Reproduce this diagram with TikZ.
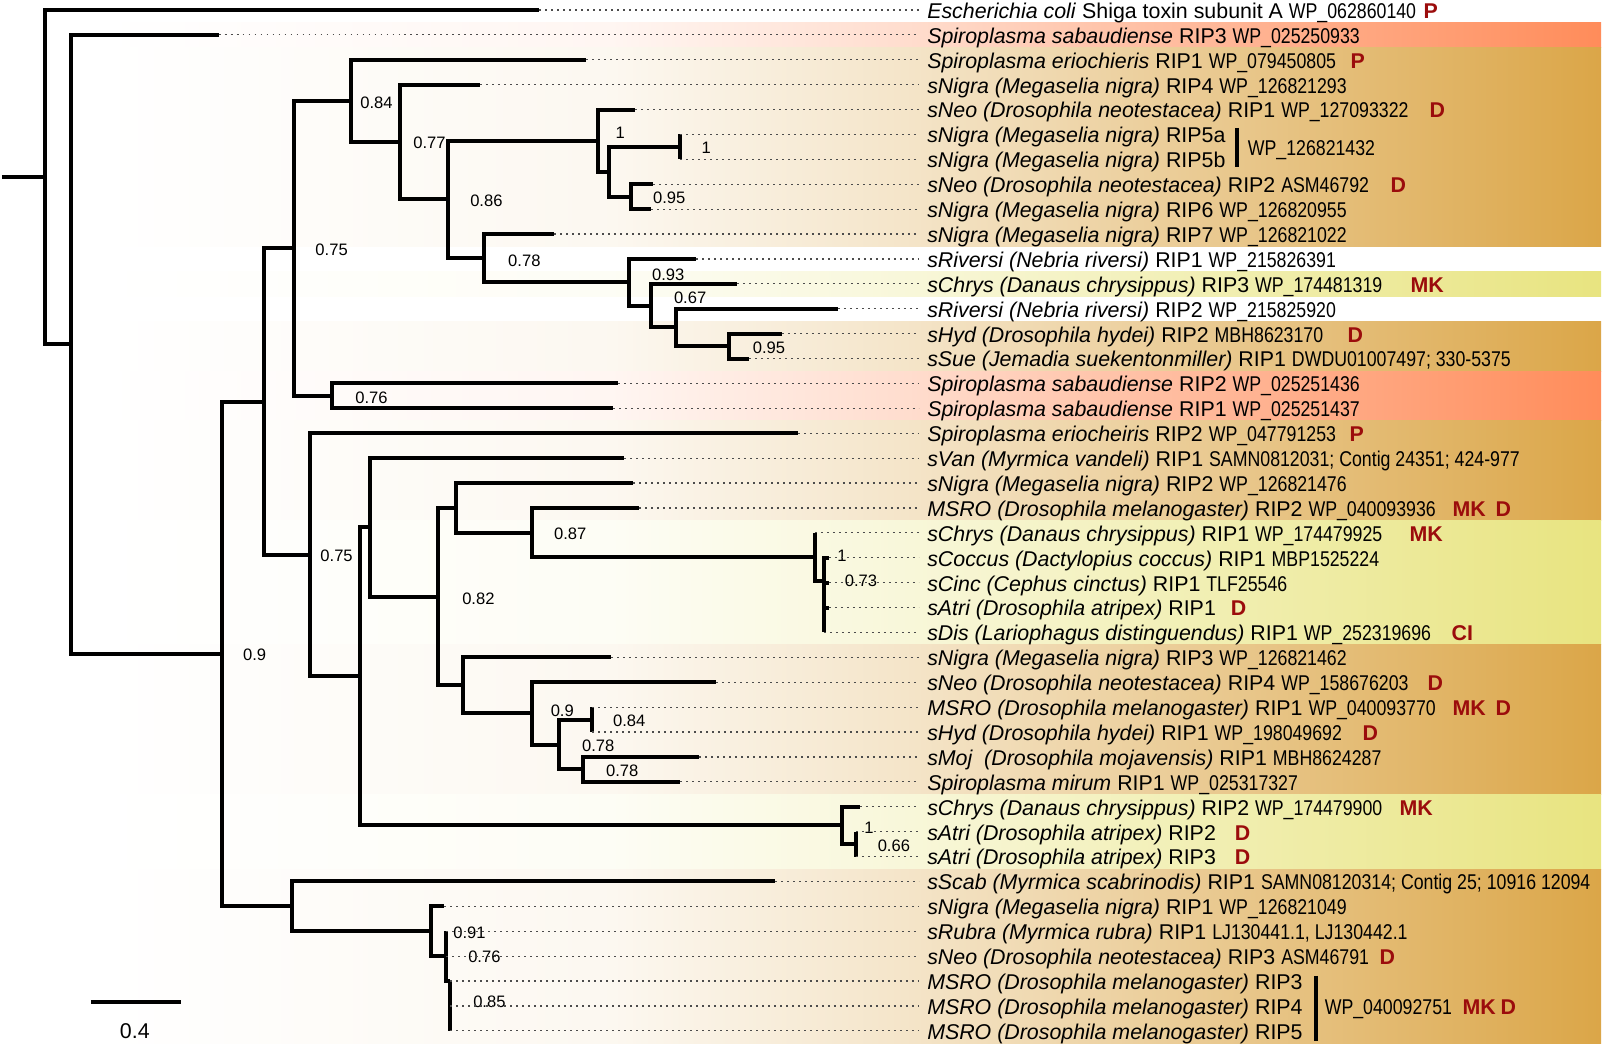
\documentclass[tikz,border=0pt]{standalone}
\usepackage{fontspec}
\setmainfont{Liberation Sans}
\newfontfamily\accfont[FakeStretch=0.83]{Liberation Sans}
\newcommand{\acc}[1]{{\accfont #1}}

\definecolor{bandgold}{RGB}{219,166,72}
\definecolor{bandcoral}{RGB}{255,140,90}
\definecolor{bandyellow}{RGB}{232,228,128}
\definecolor{tagred}{RGB}{155,12,12}

% white on the left, full colour on the right
\pgfdeclarehorizontalshading{goldfade}{100bp}{color(0bp)=(white); color(25bp)=(white);
	color(42bp)=(bandgold!8); color(52bp)=(bandgold!30); color(58bp)=(bandgold!48);
	color(75bp)=(bandgold); color(100bp)=(bandgold)}
\pgfdeclarehorizontalshading{coralfade}{100bp}{color(0bp)=(white); color(25bp)=(white);
	color(42bp)=(bandcoral!8); color(52bp)=(bandcoral!30); color(58bp)=(bandcoral!50);
	color(75bp)=(bandcoral); color(100bp)=(bandcoral)}
\pgfdeclarehorizontalshading{yellowfade}{100bp}{color(0bp)=(white); color(25bp)=(white);
	color(42bp)=(bandyellow!8); color(52bp)=(bandyellow!30); color(58bp)=(bandyellow!48);
	color(75bp)=(bandyellow); color(100bp)=(bandyellow)}

\begin{document}
\begin{tikzpicture}[x=0.5pt, y=-12.465pt,
	branch/.style={line width=2pt, line join=miter},
	leafdots/.style={line width=0.6pt, dash pattern=on 0.9pt off 2.1pt, black!70},
	leaf/.style={anchor=base west, inner xsep=4pt, inner ysep=0pt, yshift=-4.2pt,
		font=\fontsize{10.7}{12}\selectfont},
	support/.style={inner sep=0pt, font=\fontsize{8.3}{10}\selectfont},
	tag/.style={anchor=base west, inner sep=0pt, yshift=-4.2pt, text=tagred,
		font=\fontsize{10.7}{12}\selectfont\bfseries},
	goldband/.style={shading=goldfade},
	coralband/.style={shading=coralfade},
	yellowband/.style={shading=yellowfade}
]

	\fill[white] (0,0.599) rectangle (1604,42.717);

	% Coloured rows behind the labels
	\shade[coralband]  (100,1.5)  rectangle (1601,2.5);
	\shade[goldband]   (100,2.5)  rectangle (1601,10.5);
	\shade[yellowband] (100,11.5) rectangle (1601,12.5);
	\shade[goldband]   (100,13.5) rectangle (1601,15.5);
	\shade[coralband]  (100,15.5) rectangle (1601,17.5);
	\shade[goldband]   (100,17.5) rectangle (1601,21.5);
	\shade[yellowband] (100,21.5) rectangle (1601,26.5);
	\shade[goldband]   (100,26.5) rectangle (1601,32.5);
	\shade[yellowband] (100,32.5) rectangle (1601,35.5);
	\shade[goldband]   (100,35.5) rectangle (1601,42.5);

	% Inner nodes of the tree
	\coordinate (stem) at (0,7.716);
	\coordinate (root) at (43,7.716);
	\coordinate (nA) at (69,14.432);
	\coordinate (nB) at (220,26.865);
	\coordinate (nC) at (262,16.729);
	\coordinate (nD) at (292,10.576);
	\coordinate (nF) at (349,4.652);
	\coordinate (nH) at (398,6.305);
	\coordinate (nI) at (447,8.609);
	\coordinate (nJ) at (597,6.25);
	\coordinate (nL) at (608,7.5);
	\coordinate (nM) at (679,6.5);
	\coordinate (nN) at (630,8.5);
	\coordinate (nK) at (483,10.969);
	\coordinate (nO) at (628,11.938);
	\coordinate (nP) at (650,12.875);
	\coordinate (nQ) at (675,13.75);
	\coordinate (nS) at (728,14.5);
	\coordinate (nG) at (330,16.5);
	\coordinate (nE) at (308,22.882);
	\coordinate (nT) at (358,27.765);
	\coordinate (nU) at (368,21.78);
	\coordinate (nW) at (437,24.559);
	\coordinate (nY) at (455,20.994);
	\coordinate (nAA) at (531,21.988);
	\coordinate (nAB) at (814,22.975);
	\coordinate (nAC) at (823,23.95);
	\coordinate (nZ) at (462,28.125);
	\coordinate (nAD) at (531,29.25);
	\coordinate (nAE) at (558,30.5);
	\coordinate (nAF) at (591,29.5);
	\coordinate (nAG) at (582,31.5);
	\coordinate (nV) at (841,33.75);
	\coordinate (nAH) at (855,34.5);
	\coordinate (nX) at (290,37);
	\coordinate (nAI) at (430,38);
	\coordinate (nAJ) at (445,39);
	\coordinate (nAK) at (449,40);

	% Tips
	\coordinate (tip1) at (538,1);
	\coordinate (tip2) at (217,2);
	\coordinate (tip3) at (585,3);
	\coordinate (tip4) at (479,4);
	\coordinate (tip5) at (634,5);
	\coordinate (tip6) at (679,6);
	\coordinate (tip7) at (679,7);
	\coordinate (tip8) at (652,8);
	\coordinate (tip9) at (650,9);
	\coordinate (tip10) at (553,10);
	\coordinate (tip11) at (695,11);
	\coordinate (tip12) at (736,12);
	\coordinate (tip13) at (837,13);
	\coordinate (tip14) at (781,14);
	\coordinate (tip15) at (748,15);
	\coordinate (tip16) at (617,16);
	\coordinate (tip17) at (612,17);
	\coordinate (tip18) at (797,18);
	\coordinate (tip19) at (623,19);
	\coordinate (tip20) at (632,20);
	\coordinate (tip21) at (638,21);
	\coordinate (tip22) at (814,22);
	\coordinate (tip23) at (828,23);
	\coordinate (tip24) at (828,24);
	\coordinate (tip25) at (828,25);
	\coordinate (tip26) at (823,26);
	\coordinate (tip27) at (610,27);
	\coordinate (tip28) at (715,28);
	\coordinate (tip29) at (591,29);
	\coordinate (tip30) at (591,30);
	\coordinate (tip31) at (698,31);
	\coordinate (tip32) at (679,32);
	\coordinate (tip33) at (859,33);
	\coordinate (tip34) at (855,34);
	\coordinate (tip35) at (855,35);
	\coordinate (tip36) at (774,36);
	\coordinate (tip37) at (443,37);
	\coordinate (tip38) at (445,38);
	\coordinate (tip39) at (445,39);
	\coordinate (tip40) at (449,40);
	\coordinate (tip41) at (449,41);
	\coordinate (tip42) at (449,42);

	% Branches
	\draw[branch] (stem) -- (root);
	\draw[branch] (root) |- (tip1) (root) |- (nA);
	\draw[branch] (nA) |- (tip2) (nA) |- (nB);
	\draw[branch] (nB) |- (nC) (nB) |- (nX);
	\draw[branch] (nC) |- (nD) (nC) |- (nE);
	\draw[branch] (nD) |- (nF) (nD) |- (nG);
	\draw[branch] (nF) |- (tip3) (nF) |- (nH);
	\draw[branch] (nH) |- (tip4) (nH) |- (nI);
	\draw[branch] (nI) |- (nJ) (nI) |- (nK);
	\draw[branch] (nJ) |- (tip5) (nJ) |- (nL);
	\draw[branch] (nL) |- (nM) (nL) |- (nN);
	\draw[branch] (nM) |- (tip6) (nM) |- (tip7);
	\draw[branch] (nN) |- (tip8) (nN) |- (tip9);
	\draw[branch] (nK) |- (tip10) (nK) |- (nO);
	\draw[branch] (nO) |- (tip11) (nO) |- (nP);
	\draw[branch] (nP) |- (tip12) (nP) |- (nQ);
	\draw[branch] (nQ) |- (tip13) (nQ) |- (nS);
	\draw[branch] (nS) |- (tip14) (nS) |- (tip15);
	\draw[branch] (nG) |- (tip16) (nG) |- (tip17);
	\draw[branch] (nE) |- (tip18) (nE) |- (nT);
	\draw[branch] (nT) |- (nU) (nT) |- (nV);
	\draw[branch] (nU) |- (tip19) (nU) |- (nW);
	\draw[branch] (nW) |- (nY) (nW) |- (nZ);
	\draw[branch] (nY) |- (tip20) (nY) |- (nAA);
	\draw[branch] (nAA) |- (tip21) (nAA) |- (nAB);
	\draw[branch] (nAB) |- (tip22) (nAB) |- (nAC);
	\draw[branch] (nAC) |- (tip23) (nAC) |- (tip24) (nAC) |- (tip25) (nAC) |- (tip26);
	\draw[branch] (nZ) |- (tip27) (nZ) |- (nAD);
	\draw[branch] (nAD) |- (tip28) (nAD) |- (nAE);
	\draw[branch] (nAE) |- (nAF) (nAE) |- (nAG);
	\draw[branch] (nAF) |- (tip29) (nAF) |- (tip30);
	\draw[branch] (nAG) |- (tip31) (nAG) |- (tip32);
	\draw[branch] (nV) |- (tip33) (nV) |- (nAH);
	\draw[branch] (nAH) |- (tip34) (nAH) |- (tip35);
	\draw[branch] (nX) |- (tip36) (nX) |- (nAI);
	\draw[branch] (nAI) |- (tip37) (nAI) |- (nAJ);
	\draw[branch] (nAJ) |- (tip38) (nAJ) |- (nAK);
	\draw[branch] (nAK) |- (tip42);

	% Support values
	\node[support] (s1) at (375,4.73) {0.84};
	\node[support] (s2) at (428,6.34) {0.77};
	\node[support] (s3) at (485,8.66) {0.86};
	\node[support] (s4) at (330,10.63) {0.75};
	\node[support] (s5) at (523,11.07) {0.78};
	\node[support] (s6) at (619,5.93) {1};
	\node[support] (s7) at (705,6.54) {1};
	\node[support] (s8) at (668,8.54) {0.95};
	\node[support] (s9) at (667,11.63) {0.93};
	\node[support] (s10) at (689,12.55) {0.67};
	\node[support] (s11) at (768,14.56) {0.95};
	\node[support] (s12) at (370,16.56) {0.76};
	\node[support] (s13) at (253,26.91) {0.9};
	\node[support] (s14) at (335,22.94) {0.75};
	\node[support] (s15) at (477,24.63) {0.82};
	\node[support] (s16) at (569,22.02) {0.87};
	\node[support] (s17) at (841,22.94) {1};
	\node[support] (s18) at (860,23.94) {0.73};
	\node[support] (s19) at (561,29.16) {0.9};
	\node[support] (s20) at (628,29.56) {0.84};
	\node[support] (s21) at (597,30.56) {0.78};
	\node[support] (s22) at (621,31.56) {0.78};
	\node[support] (s23) at (868,33.85) {1};
	\node[support] (s24) at (893,34.57) {0.66};
	\node[support] (s25) at (468,38.06) {0.91};
	\node[support] (s26) at (483,39.03) {0.76};
	\node[support] (s27) at (488,40.83) {0.85};

	% Leaf labels
	\node[leaf] (name1) at (918,1) {\textit{Escherichia coli} Shiga toxin subunit A \acc{WP\_062860140}};
	\node[leaf] (name2) at (918,2) {\textit{Spiroplasma sabaudiense} RIP3 \acc{WP\_025250933}};
	\node[leaf] (name3) at (918,3) {\textit{Spiroplasma eriochieris} RIP1 \acc{WP\_079450805}};
	\node[leaf] (name4) at (918,4) {\textit{sNigra (Megaselia nigra)} RIP4 \acc{WP\_126821293}};
	\node[leaf] (name5) at (918,5) {\textit{sNeo (Drosophila neotestacea)} RIP1 \acc{WP\_127093322}};
	\node[leaf] (name6) at (918,6) {\textit{sNigra (Megaselia nigra)} RIP5a};
	\node[leaf] (name7) at (918,7) {\textit{sNigra (Megaselia nigra)} RIP5b};
	\node[leaf] (name8) at (918,8) {\textit{sNeo (Drosophila neotestacea)} RIP2 \acc{ASM46792}};
	\node[leaf] (name9) at (918,9) {\textit{sNigra (Megaselia nigra)} RIP6 \acc{WP\_126820955}};
	\node[leaf] (name10) at (918,10) {\textit{sNigra (Megaselia nigra)} RIP7 \acc{WP\_126821022}};
	\node[leaf] (name11) at (918,11) {\textit{sRiversi (Nebria riversi)} RIP1 \acc{WP\_215826391}};
	\node[leaf] (name12) at (918,12) {\textit{sChrys (Danaus chrysippus)} RIP3 \acc{WP\_174481319}};
	\node[leaf] (name13) at (918,13) {\textit{sRiversi (Nebria riversi)} RIP2 \acc{WP\_215825920}};
	\node[leaf] (name14) at (918,14) {\textit{sHyd (Drosophila hydei)} RIP2 \acc{MBH8623170}};
	\node[leaf] (name15) at (918,15) {\textit{sSue (Jemadia suekentonmiller)} RIP1 \acc{DWDU01007497; 330-5375}};
	\node[leaf] (name16) at (918,16) {\textit{Spiroplasma sabaudiense} RIP2 \acc{WP\_025251436}};
	\node[leaf] (name17) at (918,17) {\textit{Spiroplasma sabaudiense} RIP1 \acc{WP\_025251437}};
	\node[leaf] (name18) at (918,18) {\textit{Spiroplasma eriocheiris} RIP2 \acc{WP\_047791253}};
	\node[leaf] (name19) at (918,19) {\textit{sVan (Myrmica vandeli)} RIP1 \acc{SAMN0812031; Contig 24351; 424-977}};
	\node[leaf] (name20) at (918,20) {\textit{sNigra (Megaselia nigra)} RIP2 \acc{WP\_126821476}};
	\node[leaf] (name21) at (918,21) {\textit{MSRO (Drosophila melanogaster)} RIP2 \acc{WP\_040093936}};
	\node[leaf] (name22) at (918,22) {\textit{sChrys (Danaus chrysippus)} RIP1 \acc{WP\_174479925}};
	\node[leaf] (name23) at (918,23) {\textit{sCoccus (Dactylopius coccus)} RIP1 \acc{MBP1525224}};
	\node[leaf] (name24) at (918,24) {\textit{sCinc (Cephus cinctus)} RIP1 \acc{TLF25546}};
	\node[leaf] (name25) at (918,25) {\textit{sAtri (Drosophila atripex)} RIP1};
	\node[leaf] (name26) at (918,26) {\textit{sDis (Lariophagus distinguendus)} RIP1 \acc{WP\_252319696}};
	\node[leaf] (name27) at (918,27) {\textit{sNigra (Megaselia nigra)} RIP3 \acc{WP\_126821462}};
	\node[leaf] (name28) at (918,28) {\textit{sNeo (Drosophila neotestacea)} RIP4 \acc{WP\_158676203}};
	\node[leaf] (name29) at (918,29) {\textit{MSRO (Drosophila melanogaster)} RIP1 \acc{WP\_040093770}};
	\node[leaf] (name30) at (918,30) {\textit{sHyd (Drosophila hydei)} RIP1 \acc{WP\_198049692}};
	\node[leaf] (name31) at (918,31) {\textit{sMoj\ \ (Drosophila mojavensis)} RIP1 \acc{MBH8624287}};
	\node[leaf] (name32) at (918,32) {\textit{Spiroplasma mirum} RIP1 \acc{WP\_025317327}};
	\node[leaf] (name33) at (918,33) {\textit{sChrys (Danaus chrysippus)} RIP2 \acc{WP\_174479900}};
	\node[leaf] (name34) at (918,34) {\textit{sAtri (Drosophila atripex)} RIP2};
	\node[leaf] (name35) at (918,35) {\textit{sAtri (Drosophila atripex)} RIP3};
	\node[leaf] (name36) at (918,36) {\textit{sScab (Myrmica scabrinodis)} RIP1 \acc{SAMN08120314; Contig 25; 10916 12094}};
	\node[leaf] (name37) at (918,37) {\textit{sNigra (Megaselia nigra)} RIP1 \acc{WP\_126821049}};
	\node[leaf] (name38) at (918,38) {\textit{sRubra (Myrmica rubra)} RIP1 \acc{LJ130441.1, LJ130442.1}};
	\node[leaf] (name39) at (918,39) {\textit{sNeo (Drosophila neotestacea)} RIP3 \acc{ASM46791}};
	\node[leaf] (name40) at (918,40) {\textit{MSRO (Drosophila melanogaster)} RIP3};
	\node[leaf] (name41) at (918,41) {\textit{MSRO (Drosophila melanogaster)} RIP4};
	\node[leaf] (name42) at (918,42) {\textit{MSRO (Drosophila melanogaster)} RIP5};

	\foreach \i in {1,...,42}
		\draw[leafdots] (tip\i) -- (tip\i -| name\i.west);

	% Shared accessions
	\coordinate (grpAtop) at (1237,5.73);
	\coordinate (grpAbot) at (1237,7.30);
	\draw[branch] (grpAtop) -- (grpAbot);
	\node[leaf] (grpA) at (1239,6.5) {\acc{WP\_126821432}};
	\coordinate (grpBtop) at (1316,39.79);
	\coordinate (grpBbot) at (1316,42.4);
	\draw[branch] (grpBtop) -- (grpBbot);
	\node[leaf] (grpB) at (1316,41) {\acc{WP\_040092751}};

	% Host tags
	\node[tag] (tag1) at (1423,1) {P};
	\node[tag] (tag3) at (1350,3) {P};
	\node[tag] (tag5) at (1429,5) {D};
	\node[tag] (tag8) at (1390,8) {D};
	\node[tag] (tag12) at (1410,12) {MK};
	\node[tag] (tag14) at (1347,14) {D};
	\node[tag] (tag18) at (1349,18) {P};
	\node[tag] (tag21) at (1452,21) {MK};
	\node[tag] (tag21d) at (1495,21) {D};
	\node[tag] (tag22) at (1409,22) {MK};
	\node[tag] (tag25) at (1230,25) {D};
	\node[tag] (tag26) at (1451,26) {CI};
	\node[tag] (tag28) at (1427,28) {D};
	\node[tag] (tag29) at (1452,29) {MK};
	\node[tag] (tag29d) at (1495,29) {D};
	\node[tag] (tag30) at (1362,30) {D};
	\node[tag] (tag33) at (1399,33) {MK};
	\node[tag] (tag34) at (1234,34) {D};
	\node[tag] (tag35) at (1234,35) {D};
	\node[tag] (tag39) at (1379,39) {D};
	\node[tag] (tagB) at (1462,41) {MK};
	\node[tag] (tagBd) at (1500,41) {D};

	% Scale bar
	\coordinate (bar1) at (89,40.83);
	\coordinate (bar2) at (179,40.83);
	\draw[branch] (bar1) -- (bar2);
	\node[inner sep=0pt, font=\fontsize{10.7}{12}\selectfont] (barlabel) at (133,42.03) {0.4};

\end{tikzpicture}
\end{document}
